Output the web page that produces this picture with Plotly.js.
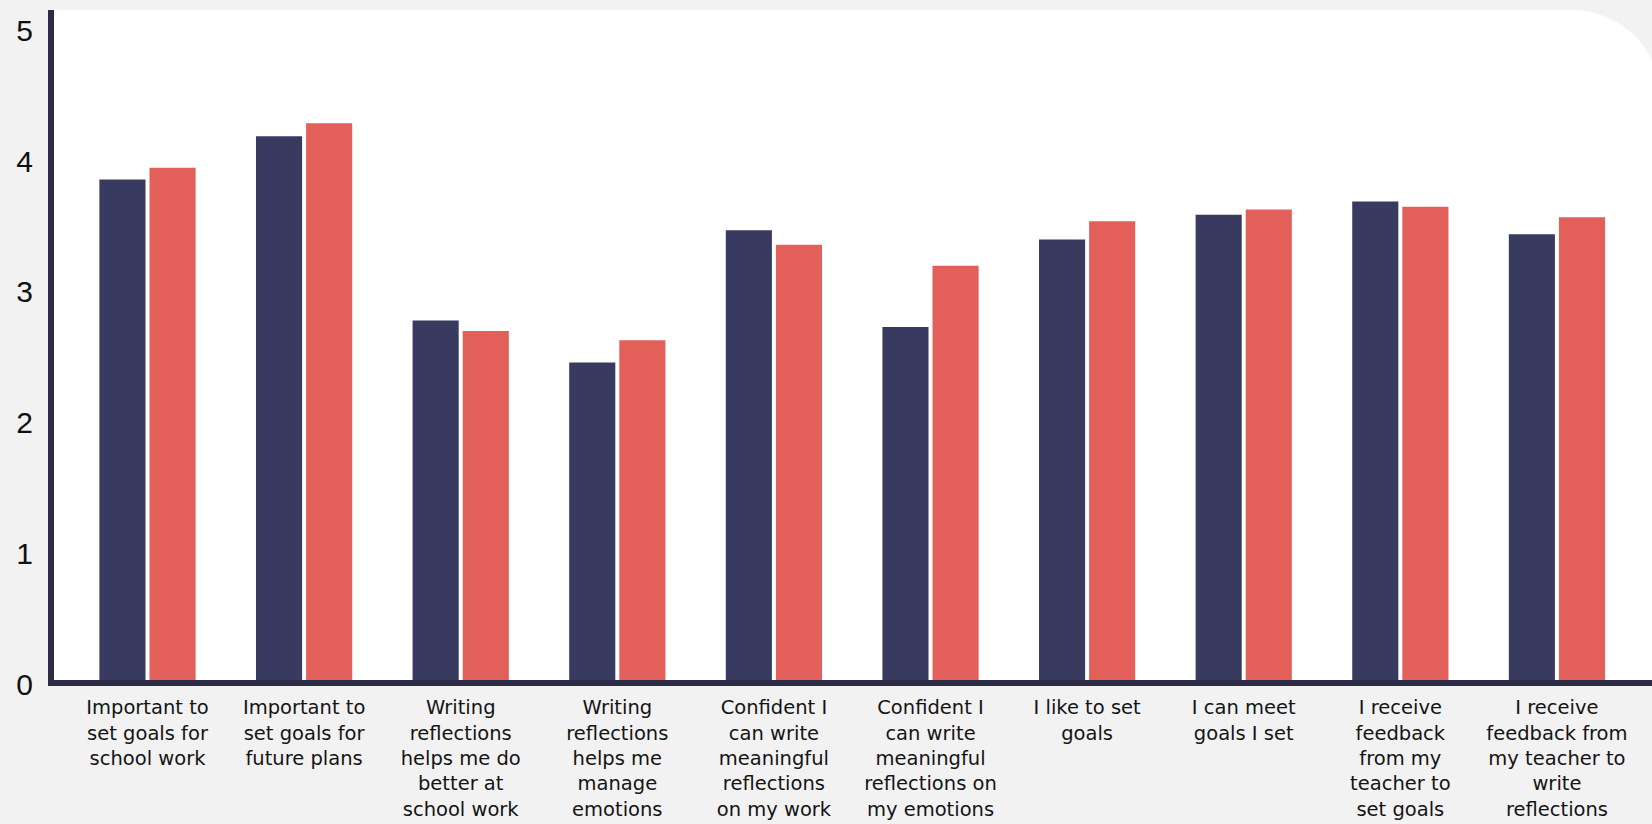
<!DOCTYPE html>
<html>
<head>
<meta charset="utf-8">
<script src="https://cdn.plot.ly/plotly-3.0.1.min.js"></script>
<style>
  html, body { margin: 0; padding: 0; background: #f2f2f2; }
  #chart { width: 1652px; height: 824px; }
</style>
</head>
<body>
<div id="chart"></div>
<script>
// Survey statements (x categories), drawn with line breaks
const categories = [
  "Important to<br>set goals for<br>school work",
  "Important to<br>set goals for<br>future plans",
  "Writing<br>reflections<br>helps me do<br>better at<br>school work",
  "Writing<br>reflections<br>helps me<br>manage<br>emotions",
  "Confident I<br>can write<br>meaningful<br>reflections<br>on my work",
  "Confident I<br>can write<br>meaningful<br>reflections on<br>my emotions",
  "I like to set<br>goals",
  "I can meet<br>goals I set",
  "I receive<br>feedback<br>from my<br>teacher to<br>set goals",
  "I receive<br>feedback from<br>my teacher to<br>write<br>reflections"
];

// Mean ratings for the two groups
const seriesA = [3.83, 4.16, 2.75, 2.43, 3.44, 2.70, 3.37, 3.56, 3.66, 3.41];
const seriesB = [3.92, 4.26, 2.67, 2.60, 3.33, 3.17, 3.51, 3.60, 3.62, 3.54];

const yTicks = [0, 1, 2, 3, 4, 5];

const NAVY = "#383a5f";
const CORAL = "#e25f5a";
const AXIS = "#2c2b47";

// plot area in pixels
const W = 1652, H = 824;
const L = 54, R = 0, T = 10, B = 144;
const plotW = W - L - R, plotH = H - T - B;
const px = v => (v - L) / plotW;
const py = v => (H - B - v) / plotH;

// white card with a rounded top-right corner behind the bars
const rad = 89, k = 0.5523;
const cx = 1572, cy = T + rad;
const cardPath =
  `M ${px(L)} ${py(H - B)} L ${px(L)} ${py(T)} L ${px(cx)} ${py(T)} ` +
  `C ${px(cx + k * rad)} ${py(T)} ${px(cx + rad)} ${py(cy - k * rad)} ${px(cx + rad)} ${py(cy)} ` +
  `L ${px(cx + rad)} ${py(H - B)} Z`;

const traces = [
  { type: "bar", x: categories, y: seriesA, marker: { color: NAVY }, hoverinfo: "y" },
  { type: "bar", x: categories, y: seriesB, marker: { color: CORAL }, hoverinfo: "y" }
];

const layout = {
  width: W, height: H,
  margin: { l: L, r: R, t: T, b: B, pad: 0 },
  paper_bgcolor: "#f2f2f2",
  plot_bgcolor: "rgba(0,0,0,0)",
  showlegend: false,
  barmode: "group",
  bargap: 0.36,
  bargroupgap: 0.08,
  xaxis: {
    type: "category",
    range: [-0.597, 9.607],
    showgrid: false, zeroline: false,
    showline: true, linewidth: 6, linecolor: AXIS,
    ticks: "",
    tickangle: 0,
    ticklabelstandoff: 5,
    tickfont: { family: "'DejaVu Sans', 'Open Sans', sans-serif", size: 19.5, color: "#141414" }
  },
  yaxis: {
    range: [0, 5.126],
    tickvals: yTicks,
    showgrid: false, zeroline: false,
    showline: true, linewidth: 6, linecolor: AXIS,
    ticks: "",
    ticklabelstandoff: 9,
    ticklabelshift: 4,
    tickfont: { family: "'Liberation Sans', Arial, sans-serif", size: 30, color: "#111111" }
  },
  shapes: [{
    type: "path", xref: "paper", yref: "paper", layer: "below",
    path: cardPath, fillcolor: "#ffffff", line: { width: 0 }
  }]
};

Plotly.newPlot("chart", traces, layout, { displayModeBar: false, staticPlot: true });
</script>
</body>
</html>
